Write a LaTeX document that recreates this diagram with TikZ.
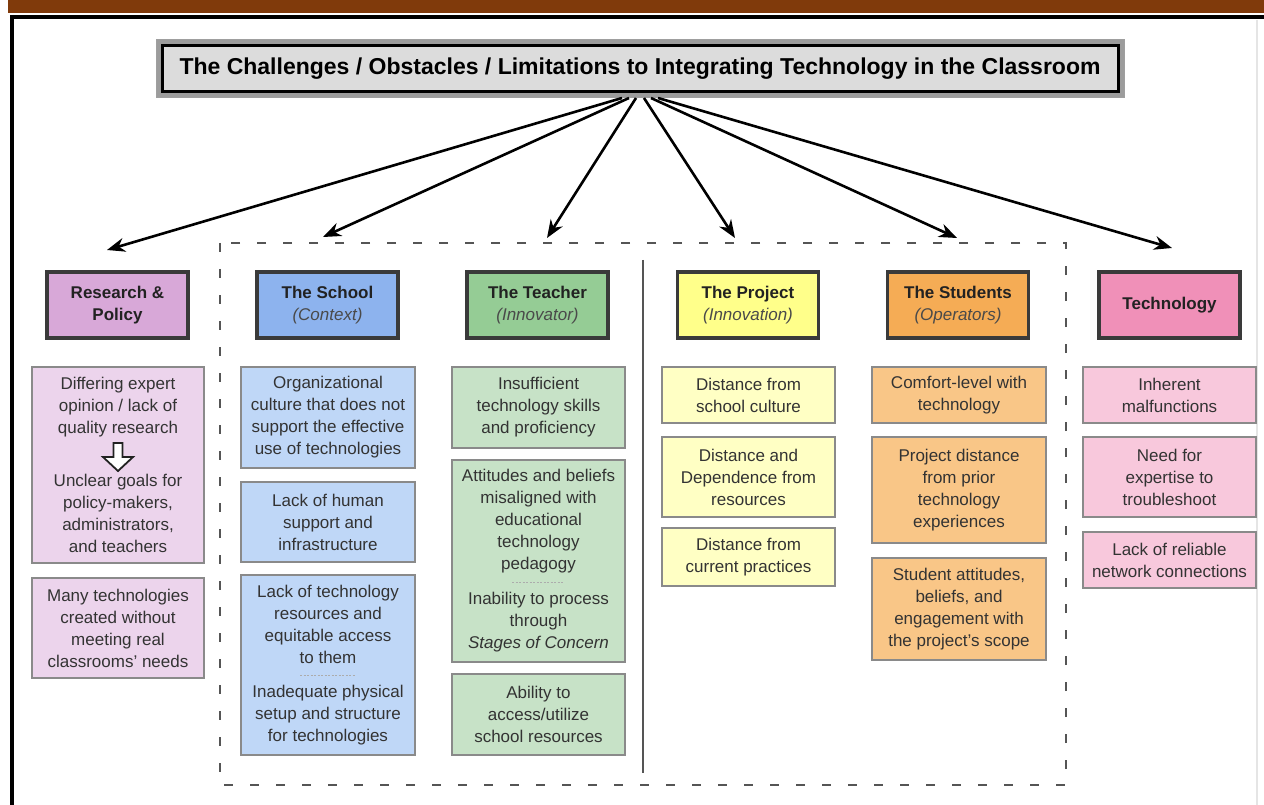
\documentclass[tikz,border=0pt]{standalone}
\usepackage{fontspec}
\setmainfont{Liberation Sans}
\usetikzlibrary{arrows.meta}
\definecolor{brownbar}{HTML}{803A0B}
\definecolor{hdrline}{HTML}{3A3A3A}
\definecolor{boxline}{HTML}{8A8A8A}
\definecolor{txtdark}{HTML}{222222}
\definecolor{txtbody}{HTML}{333333}
\definecolor{subtxt}{HTML}{4A4A4A}
\definecolor{dashc}{HTML}{555555}
\definecolor{titlefill}{HTML}{DCDCDC}
\definecolor{titleband}{HTML}{9C9C9C}
\definecolor{rpH}{HTML}{D8A8D8}
\definecolor{rpC}{HTML}{ECD4EC}
\definecolor{scH}{HTML}{8DB3EE}
\definecolor{scC}{HTML}{BFD7F7}
\definecolor{teH}{HTML}{95CC95}
\definecolor{teC}{HTML}{C7E2C7}
\definecolor{prH}{HTML}{FFFF8A}
\definecolor{prC}{HTML}{FFFFC4}
\definecolor{stH}{HTML}{F5AC55}
\definecolor{stC}{HTML}{F9C687}
\definecolor{tcH}{HTML}{F090B8}
\definecolor{tcC}{HTML}{F8C8DC}
\begin{document}
\begin{tikzpicture}[x=1pt,y=-1pt,
  hdr/.style={draw=hdrline, line width=3.5pt, inner sep=0pt, minimum width=141pt, minimum height=66pt, align=center, text=txtdark, font=\fontsize{17}{22}\selectfont\bfseries},
  cbox/.style={draw=boxline, line width=1.8pt, inner sep=0pt, align=center, text=txtbody, font=\fontsize{17}{22}\selectfont},
  link/.style={line width=2.6pt, -{Stealth[length=18pt,width=14pt]}},
  sepline/.style={draw=gray!65, line width=1pt, dash pattern=on 2pt off 1.5pt}]
\fill[white] (0,0) rectangle (1264,805);
\useasboundingbox (0,0) rectangle (1264,805);
% top bar and frame
\fill[brownbar] (8,0) rectangle (1264,13);
\draw[line width=4pt, black] (12,17) -- (1264,17);
\draw[line width=4pt, black] (12,15) -- (12,805);
\draw[line width=1.2pt, gray!20] (1257,20) -- (1257,805);
% title
\draw[draw=gray!75, fill=titleband, line width=1pt] (156,40) rectangle (1124,98);
\node[draw=black, line width=3pt, fill=titlefill, minimum width=956pt, minimum height=46pt, inner sep=0pt, font=\fontsize{23}{27}\selectfont\bfseries] (title) at (640,69) {The Challenges / Obstacles / Limitations to Integrating Technology in the Classroom};
% dashed group and divider
\draw[dashc, line width=2.6pt, dash pattern=on 9pt off 17pt] (220,243) rectangle (1066,785);
\draw[dashc, line width=2pt] (643,260) -- (643,773);
% headers
\node[hdr, fill=rpH] (hR) at (117.5,305) {Research \&\\Policy};
\node[hdr, fill=scH] (hS) at (327.5,305) {The School\\{\mdseries\itshape\color{subtxt}(Context)}};
\node[hdr, fill=teH] (hT) at (537.5,305) {The Teacher\\{\mdseries\itshape\color{subtxt}(Innovator)}};
\node[hdr, fill=prH] (hP) at (748,305) {The Project\\{\mdseries\itshape\color{subtxt}(Innovation)}};
\node[hdr, fill=stH] (hU) at (958,305) {The Students\\{\mdseries\itshape\color{subtxt}(Operators)}};
\node[hdr, fill=tcH] (hG) at (1169.5,305) {Technology};
% arrows
\coordinate (hub) at (640,98);
\coordinate (tipR) at (107,250);
\coordinate (tipS) at (323,237);
\coordinate (tipT) at (547,238);
\coordinate (tipP) at (735,238);
\coordinate (tipU) at (957,238);
\coordinate (tipG) at (1172,248);
\draw[link] ([xshift=-18pt]hub) -- (tipR);
\draw[link] ([xshift=-11pt]hub) -- (tipS);
\draw[link] ([xshift=-4pt]hub) -- (tipT);
\draw[link] ([xshift=4pt]hub) -- (tipP);
\draw[link] ([xshift=11pt]hub) -- (tipU);
\draw[link] ([xshift=18pt]hub) -- (tipG);
% Research & Policy column
\node[cbox, fill=rpC, minimum width=172pt, minimum height=196pt] (r1) at (118,465) {Differing expert\\opinion / lack of\\quality research\\[31pt]Unclear goals for\\policy-makers,\\administrators,\\and teachers};
\draw[line width=1.8pt, fill=white, draw=txtdark] (113.5,443) -- (122.5,443) -- (122.5,457) -- (133,457) -- (118,471) -- (103,457) -- (113.5,457) -- cycle;
\node[cbox, fill=rpC, minimum width=172pt, minimum height=100pt] (r2) at (118,628) {Many technologies\\created without\\meeting real\\classrooms' needs};
% School column
\node[cbox, fill=scC, minimum width=174pt, minimum height=101pt] (s1) at (328,417.5) {Organizational\\culture that does not\\support the effective\\use of technologies};
\node[cbox, fill=scC, minimum width=174pt, minimum height=80pt] (s2) at (328,522) {Lack of human\\support and\\infrastructure};
\node[cbox, fill=scC, minimum width=174pt, minimum height=180pt] (s3) at (328,665) {Lack of technology\\resources and\\equitable access\\to them\\[12pt]Inadequate physical\\setup and structure\\for technologies};
\draw[sepline] (300,675) -- (356,675);
% Teacher column
\node[cbox, fill=teC, minimum width=173pt, minimum height=81pt] (t1) at (538.5,407.5) {Insufficient\\technology skills\\and proficiency};
\node[cbox, fill=teC, minimum width=173pt, minimum height=202pt] (t2) at (538.5,561) {Attitudes and beliefs\\misaligned with\\educational\\technology\\pedagogy\\[13pt]Inability to process\\through\\\textit{Stages of Concern}};
\draw[sepline] (512,582) -- (564,582);
\node[cbox, fill=teC, minimum width=173pt, minimum height=81pt] (t3) at (538.5,714.5) {Ability to\\access/utilize\\school resources};
% Project column
\node[cbox, fill=prC, minimum width=173pt, minimum height=56pt] (p1) at (748.5,395) {Distance from\\school culture};
\node[cbox, fill=prC, minimum width=173pt, minimum height=80pt] (p2) at (748.5,477) {Distance and\\Dependence from\\resources};
\node[cbox, fill=prC, minimum width=173pt, minimum height=58pt] (p3) at (748.5,557) {Distance from\\current practices};
% Students column
\node[cbox, fill=stC, minimum width=174pt, minimum height=56pt] (u1) at (959,395) {Comfort-level with\\technology};
\node[cbox, fill=stC, minimum width=174pt, minimum height=106pt] (u2) at (959,490) {Project distance\\from prior\\technology\\experiences};
\node[cbox, fill=stC, minimum width=174pt, minimum height=102pt] (u3) at (959,609) {Student attitudes,\\beliefs, and\\engagement with\\the project's scope};
% Technology column
\node[cbox, fill=tcC, minimum width=173pt, minimum height=56pt] (g1) at (1169.5,395) {Inherent\\malfunctions};
\node[cbox, fill=tcC, minimum width=173pt, minimum height=80pt] (g2) at (1169.5,477) {Need for\\expertise to\\troubleshoot};
\node[cbox, fill=tcC, minimum width=173pt, minimum height=56pt] (g3) at (1169.5,560) {Lack of reliable\\network connections};
\end{tikzpicture}
\end{document}
